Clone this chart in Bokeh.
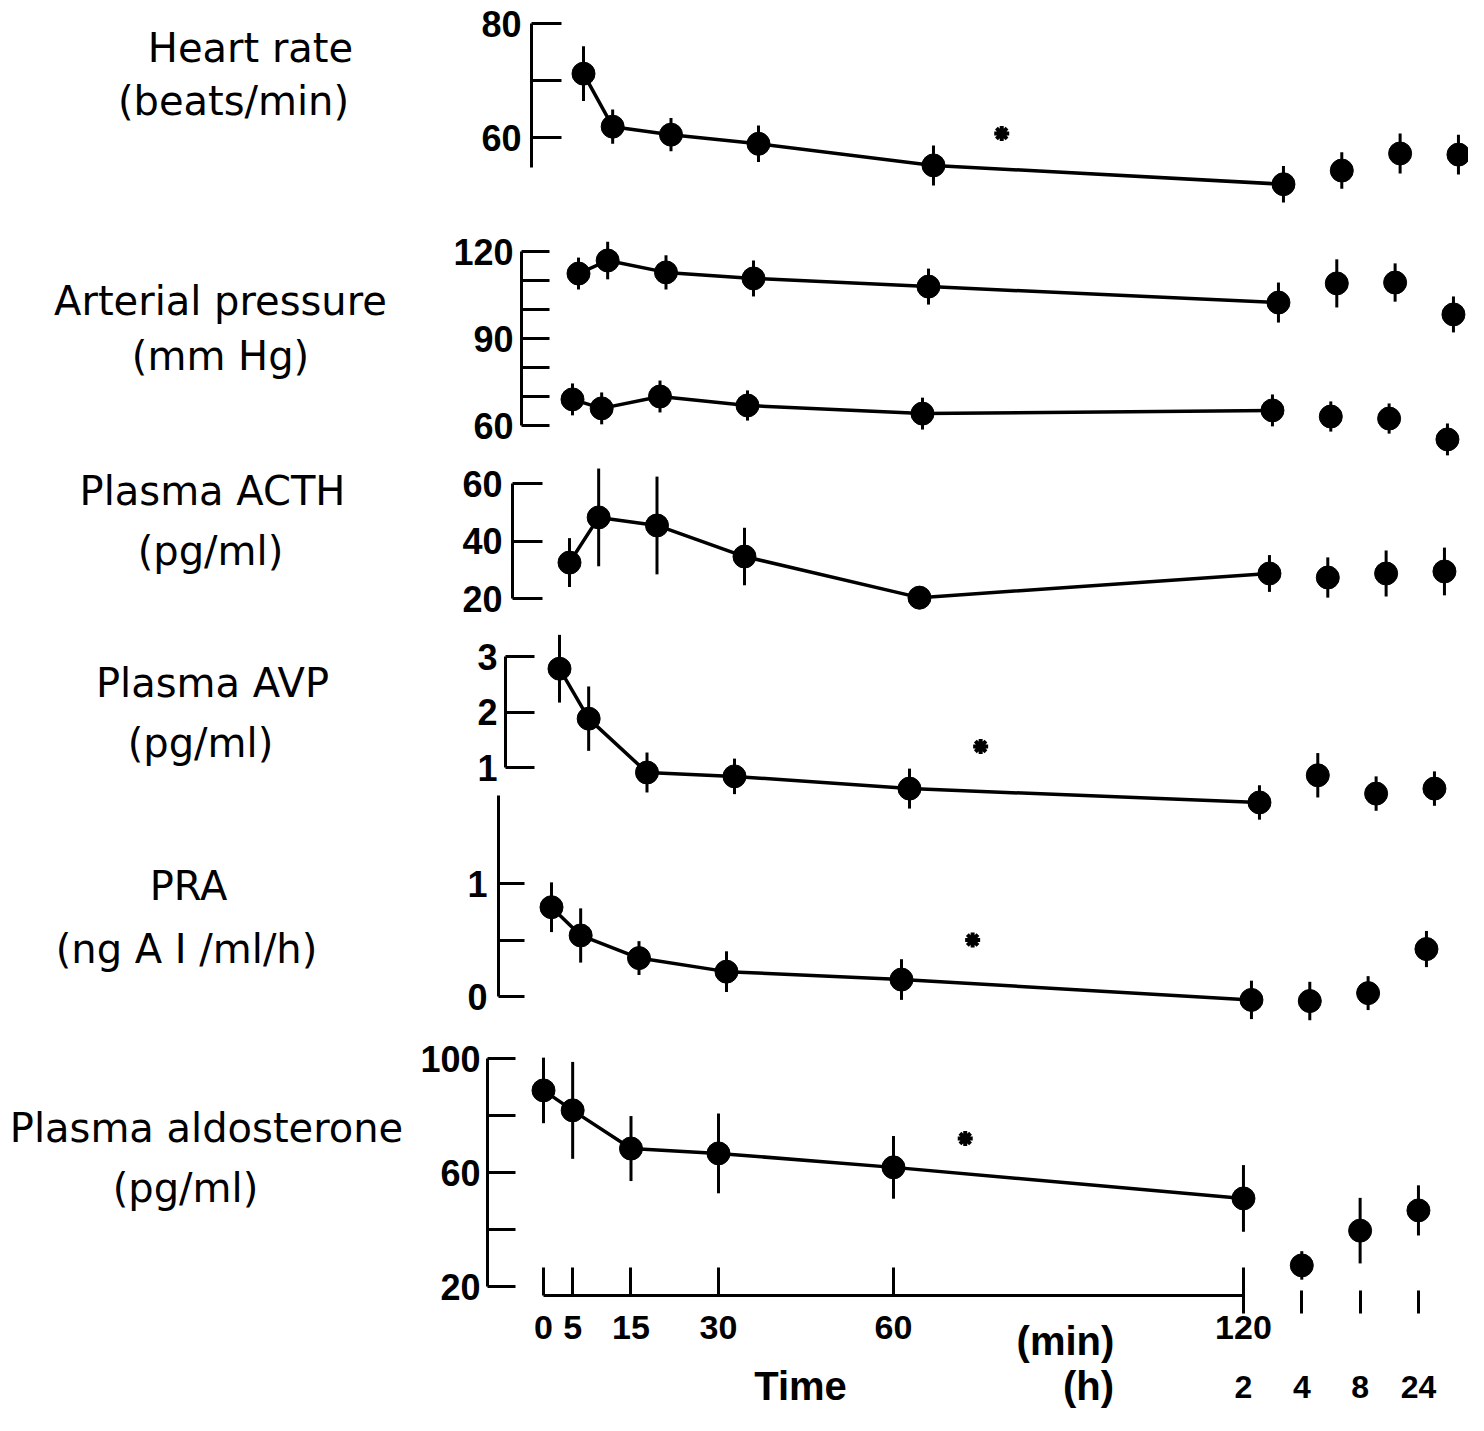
from bokeh.plotting import figure
from bokeh.models import Range1d, LinearAxis, FixedTicker, ColumnDataSource
from bokeh.core.properties import value
from bokeh.embed import file_html
from bokeh.resources import INLINE

# ---------------- data ----------------
time_min = [0, 5, 15, 30, 60, 120]          # sampling times (min)
time_h = [4, 8, 24]                           # later sampling times (h)
hour_slot = [130, 140, 150]                   # broken-axis slots for the hour samples
hour_tick_labels = ["2", "4", "8", "24"]

heart_rate = [71.2, 61.9, 60.5, 58.9, 55.1, 51.8, 54.2, 57.2, 57.0]
heart_rate_err = [4.8, 3.0, 2.9, 3.2, 3.5, 3.2, 3.2, 3.5, 3.5]

systolic = [112.4, 116.9, 112.8, 110.7, 107.9, 102.4, 109.0, 109.3, 98.3]
systolic_err = [5.5, 6.5, 5.9, 6.2, 6.2, 6.9, 8.3, 6.6, 6.2]
diastolic = [69.0, 65.9, 70.0, 66.9, 64.1, 65.2, 63.1, 62.4, 55.2]
diastolic_err = [5.5, 5.5, 5.5, 5.2, 5.5, 5.5, 5.2, 5.2, 5.5]

acth = [32.5, 48.2, 45.4, 34.6, 20.3, 28.7, 27.3, 28.7, 29.4]
acth_err = [8.5, 17.0, 17.0, 10.0, 4.0, 6.4, 7.0, 8.0, 8.3]

avp = [2.78, 1.88, 0.91, 0.84, 0.62, 0.37, 0.86, 0.53, 0.62]
avp_err = [0.61, 0.58, 0.36, 0.32, 0.36, 0.31, 0.40, 0.31, 0.31]

pra = [0.79, 0.54, 0.34, 0.22, 0.15, -0.03, -0.04, 0.03, 0.42]
pra_err = [0.22, 0.24, 0.15, 0.18, 0.18, 0.17, 0.17, 0.15, 0.16]

aldosterone = [88.8, 81.8, 68.4, 66.7, 61.8, 50.9, 27.4, 39.6, 46.7]
aldosterone_err = [11.5, 17.0, 11.4, 14.0, 11.0, 11.7, 5.0, 11.5, 8.8]

# significance markers (time in min on the axis, value)
sig_hr = (71.7, 60.7)
sig_avp = (72.2, 1.38)
sig_pra = (72.2, 0.50)
sig_aldo = (72.3, 71.9)

panel_labels = ["Heart rate", "(beats/min)", "Arterial pressure", "(mm Hg)",
                "Plasma ACTH", "(pg/ml)", "Plasma AVP", "(pg/ml)",
                "PRA", "(ng A I /ml/h)", "Plasma aldosterone", "(pg/ml)"]

# ---------------- layout ----------------
W, H = 1468, 1415
PAGE = 0
PX_PER_MIN = 5.833

p = figure(width=W, height=H, output_backend="svg", toolbar_location=None, title=None,
           x_range=Range1d(PAGE, PAGE + W), y_range=Range1d(PAGE + H, PAGE),
           x_axis_location=None, y_axis_location=None, min_border=0)
p.outline_line_color = None
p.background_fill_color = "white"
p.xgrid.visible = False
p.ygrid.visible = False


def x_range_for(offset):
    return Range1d((PAGE - offset) / PX_PER_MIN, (PAGE + W - offset) / PX_PER_MIN)


def y_range_for(va, ya, vb, yb):
    k = (vb - va) / (yb - ya)
    return Range1d(va + (PAGE + H - ya) * k, va + (PAGE - ya) * k)


xpos = time_min + hour_slot

# panel: y calibration, axis x, bounds, ticks, overrides, tick len, standoff
panels = {
    "hr":   dict(cal=(80, 23, 60, 137), ax=531, bounds=(54.7, 80), ticks=[60, 70, 80],
                 ov={70: ""}, tl=30, sd=10),
    "ap":   dict(cal=(120, 251, 60, 425), ax=521, bounds=(60, 120),
                 ticks=[60, 70, 80, 90, 100, 110, 120], ov={70: "", 80: "", 100: "", 110: ""}, tl=28, sd=8),
    "acth": dict(cal=(60, 483, 20, 598), ax=512, bounds=(20, 60), ticks=[20, 40, 60],
                 ov={}, tl=30, sd=10),
    "avp":  dict(cal=(3, 656, 1, 767), ax=505, bounds=(1, 3), ticks=[1, 2, 3],
                 ov={}, tl=29, sd=8),
    "pra":  dict(cal=(1, 883, 0, 996), ax=498, bounds=(0, 1.78), ticks=[0, 0.5, 1],
                 ov={0.5: ""}, tl=26, sd=11),
    "aldo": dict(cal=(100, 1058, 20, 1286), ax=487, bounds=(20, 100), ticks=[20, 40, 60, 80, 100],
                 ov={40: "", 80: ""}, tl=28, sd=7),
}

for name, cfg in panels.items():
    p.extra_y_ranges[name] = y_range_for(*cfg["cal"])
    ax = LinearAxis(y_range_name=name, fixed_location=cfg["ax"], bounds=cfg["bounds"],
                    ticker=FixedTicker(ticks=cfg["ticks"]), major_label_overrides=cfg["ov"],
                    major_tick_in=cfg["tl"], major_tick_out=0, minor_tick_in=0, minor_tick_out=0,
                    axis_line_width=3, axis_line_color="black",
                    major_tick_line_width=3, major_tick_line_color="black",
                    major_label_text_font="Liberation Sans", major_label_text_font_size="36px",
                    major_label_text_font_style="bold", major_label_text_color="black",
                    major_label_standoff=cfg["sd"])
    p.add_layout(ax, "left")

# series: values, errors, panel, x offset of t=0 (page px)
series = [
    (heart_rate, heart_rate_err, "hr", 583),
    (systolic, systolic_err, "ap", 578),
    (diastolic, diastolic_err, "ap", 572),
    (acth, acth_err, "acth", 569),
    (avp, avp_err, "avp", 559),
    (pra, pra_err, "pra", 551),
    (aldosterone, aldosterone_err, "aldo", 543),
]

for i, (vals, errs, yname, off) in enumerate(series):
    xname = "x%d" % i
    p.extra_x_ranges[xname] = x_range_for(off)
    src = ColumnDataSource(dict(x=xpos, y=vals,
                                lo=[v - e for v, e in zip(vals, errs)],
                                hi=[v + e for v, e in zip(vals, errs)]))
    p.segment(x0="x", y0="lo", x1="x", y1="hi", source=src, line_width=3, line_color="black",
              x_range_name=xname, y_range_name=yname)
    p.line(x=time_min, y=vals[:len(time_min)], line_width=3.5, line_color="black",
           x_range_name=xname, y_range_name=yname)
    p.scatter(x="x", y="y", source=src, size=23, fill_color="black", line_color="black",
              x_range_name=xname, y_range_name=yname)

sig = [(sig_hr, "hr", "x0"), (sig_avp, "avp", "x4"), (sig_pra, "pra", "x5"), (sig_aldo, "aldo", "x6")]
for (t, v), yname, xname in sig:
    p.scatter(x=[t], y=[v], marker="asterisk", size=15, line_width=4, line_color="black",
              x_range_name=xname, y_range_name=yname)
    p.scatter(x=[t], y=[v], marker="circle", size=8, fill_color="black", line_color="black",
              x_range_name=xname, y_range_name=yname)

# bottom time axes (minutes and hours)
min_axis = LinearAxis(x_range_name="x6", fixed_location=1295, bounds=(0, 120),
                      ticker=FixedTicker(ticks=time_min), major_tick_in=28, major_tick_out=0,
                      minor_tick_in=0, minor_tick_out=0, axis_line_width=3, major_tick_line_width=3,
                      axis_line_color="black", major_tick_line_color="black",
                      major_label_text_font="Liberation Sans", major_label_text_font_size="34px",
                      major_label_text_font_style="bold", major_label_text_color="black",
                      major_label_standoff=20)
p.add_layout(min_axis, "below")

hour_ticks = [time_min[-1]] + hour_slot
hour_axis = LinearAxis(x_range_name="x6", fixed_location=1290,
                       ticker=FixedTicker(ticks=hour_ticks),
                       major_label_overrides={t: s for t, s in zip(hour_ticks, hour_tick_labels)},
                       axis_line_color=None, major_tick_in=0, major_tick_out=23,
                       minor_tick_in=0, minor_tick_out=0, major_tick_line_width=3,
                       major_tick_line_color="black",
                       major_label_text_font="Liberation Sans", major_label_text_font_size="32px",
                       major_label_text_font_style="bold", major_label_text_color="black",
                       major_label_standoff=62)
p.add_layout(hour_axis, "below")

# panel labels (left)
p.text(x=[250, 233, 220, 220, 212, 210, 212, 200, 188, 186, 206, 185],
       y=[47, 100, 300, 355, 490, 550, 682, 742, 885, 948, 1127, 1187],
       text=panel_labels, text_font=value("DejaVu Sans"), text_font_size="40px",
       text_align="center", text_baseline="middle", text_color="black")

# axis titles
p.text(x=[1065, 800, 1088], y=[1340, 1385, 1385], text=["(min)", "Time", "(h)"],
       text_font=value("Liberation Sans"), text_font_size="40px", text_font_style="bold",
       text_align="center", text_baseline="middle", text_color="black")

open("out.html", "w").write(file_html(p, INLINE))
